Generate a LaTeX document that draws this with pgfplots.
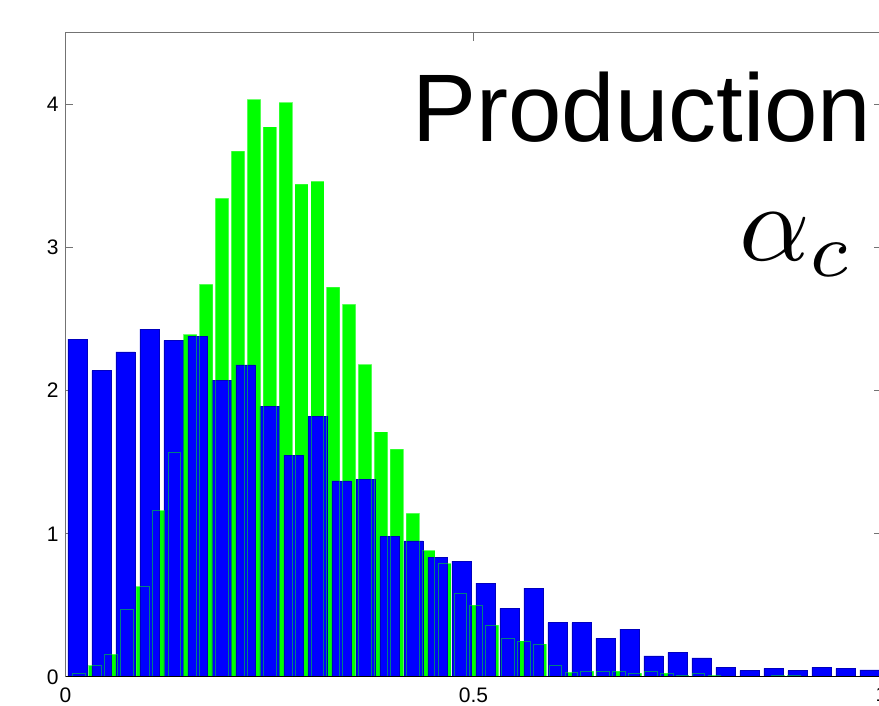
\documentclass[border=0pt]{standalone}
\usepackage{fontspec}
\setmainfont{Liberation Sans}
\usepackage{graphicx}
\usepackage{pgfplots}
\usepackage{pgfplotstable}
\pgfplotsset{compat=1.18}

\definecolor{mgreen}{RGB}{0,255,0}
\definecolor{mblue}{RGB}{0,0,255}

\pgfplotstableread{
x h
0.0168 0.026
0.0363 0.077
0.0557 0.156
0.0752 0.468
0.0946 0.63
0.1141 1.16
0.1336 1.57
0.1530 2.39
0.1725 2.74
0.1919 3.34
0.2114 3.67
0.2309 4.03
0.2503 3.84
0.2698 4.01
0.2893 3.44
0.3087 3.46
0.3282 2.72
0.3476 2.60
0.3671 2.18
0.3866 1.71
0.4060 1.59
0.4255 1.14
0.4449 0.88
0.4644 0.79
0.4839 0.58
0.5033 0.50
0.5228 0.36
0.5422 0.27
0.5617 0.25
0.5812 0.23
0.6006 0.082
0.6201 0.03
0.6395 0.04
0.6590 0.04
0.6785 0.04
0.6979 0.025
0.7174 0.04
0.7369 0.025
0.7563 0.01
0.7758 0.025
0.7952 0.01
0.8731 0.01
0.8925 0.01
}\greendata

\pgfplotstableread{
x h
0.01471 2.36
0.04412 2.14
0.07353 2.27
0.10294 2.43
0.13235 2.35
0.16176 2.38
0.19118 2.07
0.22059 2.18
0.25000 1.89
0.27941 1.55
0.30882 1.82
0.33824 1.37
0.36765 1.38
0.39706 0.98
0.42647 0.95
0.45588 0.835
0.48529 0.81
0.51471 0.655
0.54412 0.48
0.57353 0.62
0.60294 0.38
0.63235 0.38
0.66176 0.27
0.69118 0.335
0.72059 0.147
0.75000 0.172
0.77941 0.133
0.80882 0.068
0.83824 0.044
0.86765 0.06
0.89706 0.044
0.92647 0.068
0.95588 0.06
0.98529 0.05
}\bluedata

\begin{document}
\begin{tikzpicture}
\begin{axis}[
  scale only axis,
  width=408pt, height=322.2pt,
  xmin=0, xmax=1, ymin=0, ymax=4.5,
  xtick={0,0.5,1}, ytick={0,1,2,3,4},
  axis line style={black!55, line width=0.5pt},
  tick style={black!55, line width=0.5pt},
  major tick length=4pt,
  tick align=inside,
  /pgf/number format/assume math mode=true,
  ticklabel style={font=\fontsize{10.5}{12}\selectfont, text=black},
  xticklabel style={inner sep=0pt, yshift=-5pt},
]
\coordinate (O) at (rel axis cs:0,0);
\addplot[ybar, bar width=0.01557, bar shift=0pt, fill=mgreen, draw=none]
  table[x=x, y=h] {\greendata};
\addplot[ybar, bar width=0.02353, bar shift=0pt, fill=mblue, draw=mblue!75!black, line width=0.3pt]
  table[x=x, y=h] {\bluedata};
\addplot[ybar, bar width=0.01557, bar shift=0pt, fill=none, draw=mgreen, draw opacity=0.5, line width=0.5pt]
  table[x=x, y=h] {\greendata};
\draw[black, line width=1.1pt] (axis cs:0,0) -- (axis cs:1,0);
\node[anchor=base east, inner sep=0pt, font=\fontsize{48}{50}\selectfont] at (axis cs:0.988,3.738) {Production};
\node[anchor=base east, inner sep=0pt] at (axis cs:0.9675,2.912) {\scalebox{5.5}{$\alpha_c$}};
\end{axis}
\pgfresetboundingbox
\path[use as bounding box] ([xshift=-32.75pt,yshift=-14.5pt]O) rectangle ([xshift=406.75pt,yshift=338.5pt]O);
\end{tikzpicture}
\end{document}
